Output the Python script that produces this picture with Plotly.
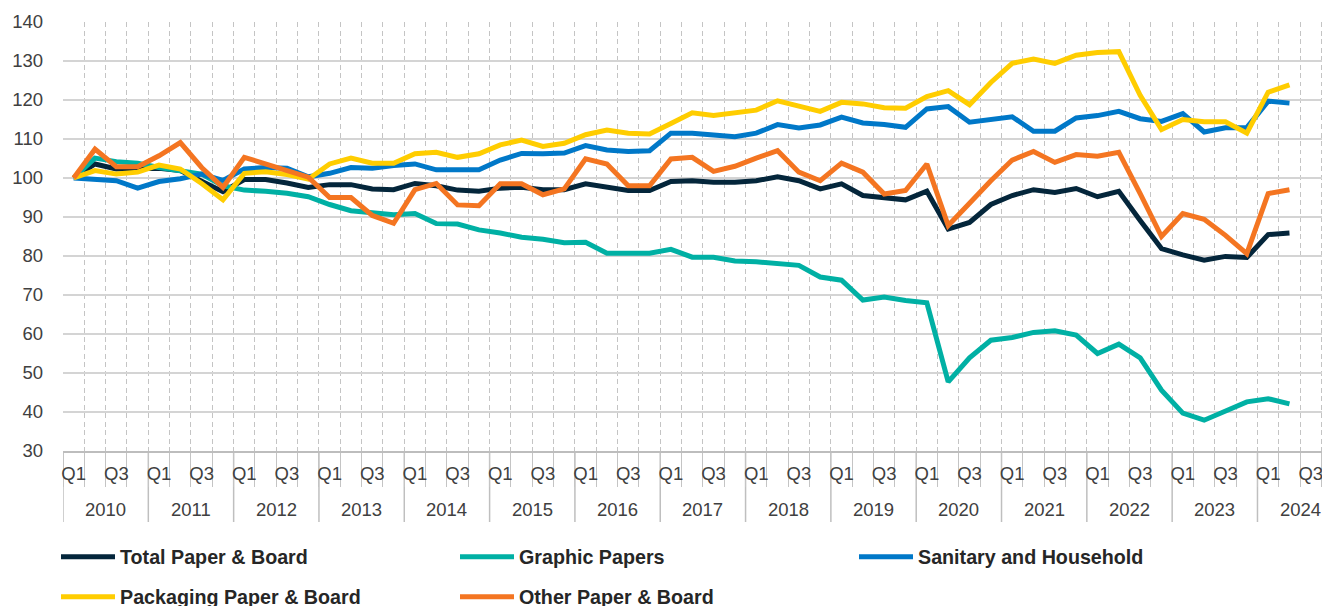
import plotly.graph_objects as go

# ---------------- data ----------------
years = ["2010", "2011", "2012", "2013", "2014", "2015", "2016", "2017",
         "2018", "2019", "2020", "2021", "2022", "2023", "2024"]
quarters = ["Q1", "Q2", "Q3", "Q4"]
shown_quarters = ["Q1", "Q3"]

total = [100, 103.6, 102.3, 102.3, 102.5, 101.9, 99.3, 96.5, 99.6, 99.6,
         98.7, 97.6, 98.3, 98.3, 97.2, 97.0, 98.6, 98.0, 96.9, 96.6,
         97.4, 97.6, 97.0, 97.0, 98.5, 97.6, 96.8, 96.8, 99.1, 99.3,
         98.9, 98.9, 99.3, 100.3, 99.3, 97.2, 98.5, 95.5, 95.0, 94.4,
         96.6, 86.9, 88.6, 93.2, 95.5, 97.0, 96.3, 97.3, 95.2, 96.6,
         89.1, 81.9, 80.3, 78.9, 79.9, 79.6, 85.5, 85.9]
graphic = [100, 105.1, 104.2, 103.8, 102.7, 102.0, 101.0, 98.0, 96.9, 96.6,
           96.1, 95.2, 93.2, 91.6, 91.0, 90.6, 90.9, 88.3, 88.2, 86.7,
           85.9, 84.8, 84.3, 83.4, 83.5, 80.7, 80.7, 80.7, 81.7, 79.7,
           79.7, 78.7, 78.5, 78.1, 77.6, 74.6, 73.8, 68.7, 69.5, 68.6,
           68.0, 47.7, 53.9, 58.4, 59.1, 60.4, 60.8, 59.7, 55.0, 57.4,
           53.9, 45.6, 39.7, 37.9, 40.4, 42.6, 43.4, 42.1]
sanitary = [100, 99.7, 99.3, 97.4, 99.1, 99.8, 101.0, 99.4, 102.3, 102.7,
            102.5, 100.3, 101.2, 102.7, 102.5, 103.2, 103.6, 102.1, 102.1, 102.1,
            104.6, 106.3, 106.2, 106.4, 108.3, 107.2, 106.8, 107.0, 111.5, 111.5,
            111.0, 110.6, 111.5, 113.7, 112.8, 113.6, 115.6, 114.1, 113.7, 113.0,
            117.7, 118.3, 114.3, 114.9, 115.7, 112.0, 112.0, 115.4, 116.0, 117.1,
            115.2, 114.5, 116.5, 111.8, 112.9, 112.9, 119.7, 119.2]
packaging = [100, 101.9, 101.0, 101.5, 103.3, 102.3, 98.6, 94.4, 101.2, 101.6,
             100.9, 99.7, 103.6, 105.1, 103.8, 103.8, 106.2, 106.6, 105.3, 106.2,
             108.5, 109.7, 108.1, 108.9, 111.1, 112.3, 111.5, 111.3, 114.0, 116.7,
             116.0, 116.8, 117.4, 119.8, 118.5, 117.1, 119.4, 119.0, 118.0, 117.9,
             120.9, 122.4, 118.8, 124.5, 129.4, 130.5, 129.4, 131.5, 132.2, 132.4,
             121.2, 112.4, 115.0, 114.4, 114.4, 111.5, 122.0, 123.9]
other = [100, 107.4, 102.9, 102.9, 105.7, 109.1, 102.7, 97.6, 105.3, 103.6,
         102.0, 100.2, 95.0, 95.0, 90.4, 88.4, 97.0, 98.6, 93.1, 92.9,
         98.5, 98.5, 95.7, 97.2, 104.9, 103.6, 98.0, 98.0, 104.9, 105.3,
         101.7, 103.0, 105.1, 107.0, 101.5, 99.3, 103.8, 101.5, 95.9, 96.8,
         103.6, 87.8, 93.5, 99.3, 104.6, 106.8, 104.0, 106.0, 105.6, 106.6,
         96.0, 85.0, 90.9, 89.4, 85.3, 80.6, 96.0, 97.0]

series_names = ["Total Paper & Board", "Graphic Papers", "Sanitary and Household",
                "Packaging Paper & Board", "Other Paper & Board"]
series_values = [total, graphic, sanitary, packaging, other]
series_colors = ["#04263b", "#00b0a4", "#0078c8", "#ffcd00", "#f47521"]
series_legend = ["legend", "legend", "legend", "legend2", "legend2"]

# ---------------- axis slots ----------------
slots = [(y, q) for y in years for q in quarters]      # one slot per quarter
tickvals = [i for i, (y, q) in enumerate(slots) if q in shown_quarters]
ticktext = [slots[i][1] for i in tickvals]

fig = go.Figure()
for name, vals, col, lg in zip(series_names, series_values, series_colors, series_legend):
    fig.add_trace(go.Scatter(
        x=list(range(len(vals))), y=vals, name=name, mode="lines",
        line=dict(color=col, width=5), legend=lg, hoverinfo="skip"))

# the page body adds an 8px margin around the figure
W, H = 1322, 598
ML, MT, MB = 55, 14, 155
plot_h = H - MT - MB
px_per_slot = 21.33
x_max = -0.5 + (W - ML) / px_per_slot

axis_font = dict(family="Liberation Sans, Arial, sans-serif", size=18.5, color="#404040")

# year dividers and labels
shapes = []
annotations = []
for k, y in enumerate(years):
    first = slots.index((y, quarters[0]))
    shapes.append(dict(type="line", xref="x", yref="paper",
                       x0=first - 0.5, x1=first - 0.5, y0=0, y1=-71 / plot_h,
                       line=dict(color="#bfbfbf", width=1.5), layer="below"))
    annotations.append(dict(text=y, xref="x", yref="paper",
                            x=first + (len(quarters) - 1) / 2, y=-58 / plot_h,
                            showarrow=False, yanchor="middle", xanchor="center",
                            font=axis_font))

legend_font = dict(family="Liberation Sans, Arial, sans-serif", size=19.7, color="#262626",
                   weight="bold")
legend_common = dict(orientation="h", xref="container", yref="container",
                     x=48 / W, xanchor="left", yanchor="middle",
                     font=legend_font, entrywidthmode="pixels", entrywidth=330,
                     itemwidth=54, bgcolor="rgba(0,0,0,0)", traceorder="normal")

fig.update_layout(
    width=W, height=H,
    margin=dict(l=ML, r=0, t=MT, b=MB, pad=0),
    plot_bgcolor="white", paper_bgcolor="white",
    showlegend=True,
    shapes=shapes, annotations=annotations,
    legend=dict(legend_common, y=1 - 549 / H),
    legend2=dict(legend_common, y=1 - 589 / H),
    xaxis=dict(
        type="linear", range=[-0.5, x_max], autorange=False,
        tickmode="array", tickvals=tickvals, ticktext=ticktext,
        ticks="", showgrid=False, zeroline=False,
        showline=True, linecolor="#bdbdbd", linewidth=2,
        tickfont=axis_font, ticklabelstandoff=5,
        minor=dict(tick0=-0.5, dtick=1, ticks="outside", ticklen=34,
                   tickcolor="#c4c4c4", tickwidth=1.2,
                   showgrid=True, gridcolor="#c4c4c4", gridwidth=1.3,
                   griddash="5px,3.5px"),
    ),
    yaxis=dict(
        range=[30, 140], autorange=False, dtick=10, tick0=30,
        showgrid=True, gridcolor="#d4d4d4", gridwidth=1.5,
        zeroline=False, showline=False, ticks="",
        tickfont=axis_font, ticklabelstandoff=19, automargin=False,
    ),
)

fig.write_html("out.html")
